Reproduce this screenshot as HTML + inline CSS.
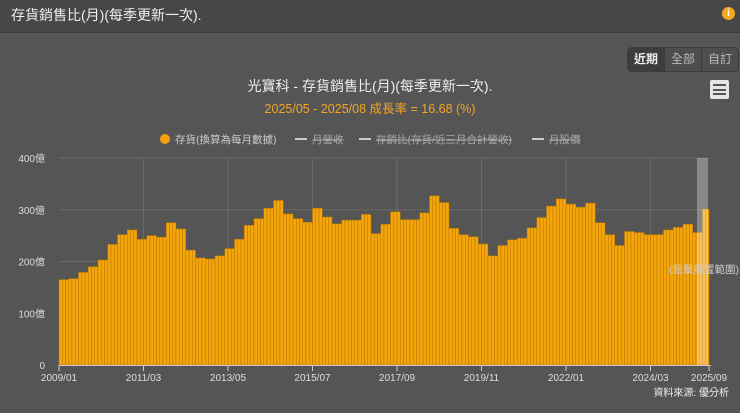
<!DOCTYPE html>
<html><head><meta charset="utf-8"><style>
body{margin:0;width:740px;height:413px;background:#555;font-family:"Liberation Sans","Noto Sans CJK TC",sans-serif;overflow:hidden;position:relative}
.hdr{position:absolute;left:0;top:0;width:740px;height:33px;background:#474747;border-bottom:1px solid #3c3c3c;color:#eee;font-size:14px;line-height:31px;padding-left:11px;box-sizing:border-box}
.info{position:absolute;right:5px;top:7px;width:13px;height:13px;border-radius:50%;background:#f5a623;color:#fff;font-size:10px;font-weight:bold;text-align:center;line-height:13px}
.btns{position:absolute;left:627px;top:47px;display:flex;border:1px solid #3c3c3c;border-radius:5px;overflow:hidden}
.btns div{width:36px;height:23px;line-height:23px;text-align:center;font-size:12px;color:#bbb;background:#4e4e4e;border-left:1px solid #3c3c3c}
.btns div:first-child{border-left:none;background:#3d3d3d;color:#eee;font-weight:bold}
.menu{position:absolute;left:710px;top:80px;width:19px;height:19px;background:#e6e6e6;border-radius:2px}
.menu i{position:absolute;left:3px;width:13px;height:2px;background:#555}
</style></head><body>
<div class="hdr">存貨銷售比(月)(每季更新一次).<div class="info">i</div></div>
<div class="btns"><div>近期</div><div>全部</div><div>自訂</div></div>
<div class="menu"><i style="top:4px"></i><i style="top:8.5px"></i><i style="top:13px"></i></div>
<svg id="chart" width="740" height="413" style="position:absolute;left:0;top:0" font-family="Liberation Sans, Noto Sans CJK TC, sans-serif">
<text x="370" y="91" text-anchor="middle" fill="#eee" font-size="14">光寶科 - 存貨銷售比(月)(每季更新一次).</text>
<text x="370" y="113" text-anchor="middle" fill="#f5a623" font-size="12.5">2025/05 - 2025/08 成長率 = 16.68 (%)</text>
<g font-size="10.5">
<g><circle cx="165" cy="139" r="5" fill="#f5a00a"/><text x="175" y="143" fill="#ccc">存貨(換算為每月數據)</text></g>
<g><line x1="295" y1="139" x2="307" y2="139" stroke="#ccc" stroke-width="2"/><text x="312" y="143" fill="#aaa" text-decoration="line-through">月營收</text></g>
<g><line x1="359" y1="139" x2="371" y2="139" stroke="#ccc" stroke-width="2"/><text x="376" y="143" fill="#aaa" text-decoration="line-through">存銷比(存貨/近三月合計營收)</text></g>
<g><line x1="532" y1="139" x2="544" y2="139" stroke="#ccc" stroke-width="2"/><text x="549" y="143" fill="#aaa" text-decoration="line-through">月股價</text></g>
</g>
<g id="grid"></g><g id="bars"></g><g id="axes"></g>
<rect x="697" y="158" width="11" height="207" fill="rgba(255,255,255,0.3)"/>
<text x="704" y="273" text-anchor="middle" fill="#ccc" font-size="10.5">(點擊重置範圍)</text>
<text x="729" y="396" text-anchor="end" fill="#eee" font-size="10">資料來源: 優分析</text>
</svg>
<script>
const quarterValues=[165,167,179,190,203,233,252,261,243,250,247,275,263,222,207,205,211,225,243,270,283,303,318,292,283,276,303,286,273,280,280,291,254,272,296,281,281,294,327,314,264,252,248,234,211,231,242,245,265,285,307,321,311,305,313,275,252,231,258,256,252,252,261,266,272,256,301];
const yTicks=[0,100,200,300,400];
const yTickLabels=["0","100億","200億","300億","400億"];
const xTickLabels=["2009/01","2011/03","2013/05","2015/07","2017/09","2019/11","2022/01","2024/03","2025/09"];
const xTickMonths=[0,26,52,78,104,130,156,182,200];
const totalMonths=200;
const X0=59,X1=709,Y0=365,Y1=158;
const xs=m=>X0+m*(X1-X0)/totalMonths;
const ys=v=>Y0-v*(Y0-Y1)/400;
const NS="http://www.w3.org/2000/svg";
const grid=document.getElementById('grid'),bars=document.getElementById('bars'),axes=document.getElementById('axes');
function mk(t,a,p){const e=document.createElementNS(NS,t);for(const k in a)e.setAttribute(k,a[k]);p.appendChild(e);return e;}
yTicks.forEach((v,i)=>{
 if(v>0){const l=mk('line',{x1:X0,x2:X1,y1:ys(v),y2:ys(v),stroke:'#6a6a6a','stroke-width':1},grid);
 
 }
 const t=mk('text',{x:45,y:ys(v)+4,'text-anchor':'end',fill:'#ddd','font-size':10},axes);t.textContent=yTickLabels[i];
 
 
});
xTickMonths.forEach((m,i)=>{
 if(i>0&&i<xTickMonths.length-1){const g=mk('line',{x1:xs(m),x2:xs(m),y1:Y1,y2:Y0,stroke:'#6a6a6a'},grid);
 
 }
 const tk=mk('line',{x1:xs(m),x2:xs(m),y1:Y0,y2:Y0+6,stroke:'#ccc'},axes);
 
 
 const t=mk('text',{x:xs(m),y:Y0+16,'text-anchor':'middle',fill:'#ddd','font-size':10},axes);t.textContent=xTickLabels[i];
 
 
});
const ax=mk('line',{x1:X0,x2:X1+2,y1:Y0+.5,y2:Y0+.5,stroke:'#ccc'},axes);


for(let m=0;m<totalMonths;m++){
 const v=quarterValues[Math.floor(m/3)];
 const w=(X1-X0)/totalMonths;
 const r=mk('rect',{x:xs(m),y:ys(v),width:w,height:Y0-ys(v),fill:'#f5a50c',stroke:'#b27300','stroke-width':0.5},bars);
 
 
}
</script>
</body></html>
